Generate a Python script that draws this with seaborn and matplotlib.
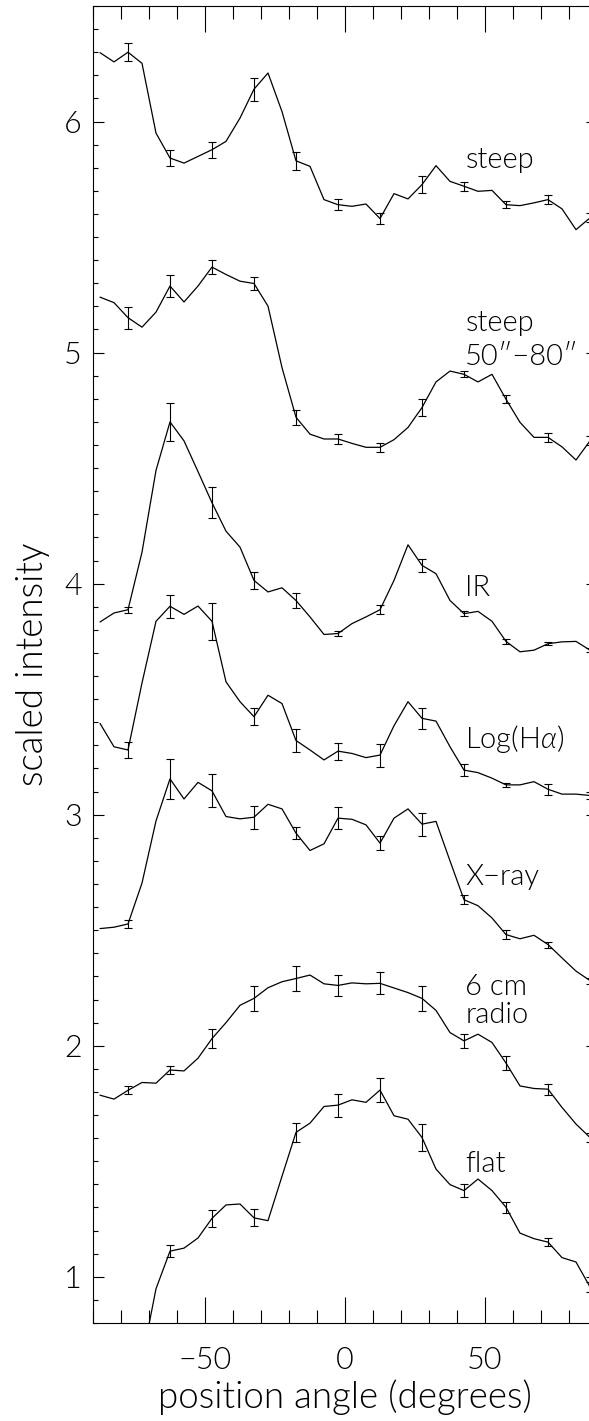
import numpy as np
import pandas as pd
import matplotlib
matplotlib.use('Agg')
import matplotlib.pyplot as plt
import seaborn as sns
from matplotlib.ticker import MultipleLocator

# ---------------- data ----------------
angles = [-87.5, -82.5, -77.5, -72.5, -67.5, -62.5, -57.5, -52.5, -47.5, -42.5,
          -37.5, -32.5, -27.5, -22.5, -17.5, -12.5, -7.5, -2.5, 2.5, 7.5,
          12.5, 17.5, 22.5, 27.5, 32.5, 37.5, 42.5, 47.5, 52.5, 57.5,
          62.5, 67.5, 72.5, 77.5, 82.5, 87.5]
err_angles = [-77.5, -62.5, -47.5, -32.5, -17.5, -2.5, 12.5, 27.5, 42.5, 57.5, 72.5, 87.5]

steep = [6.298, 6.258, 6.300, 6.252, 5.950, 5.842, 5.820, 5.849, 5.878, 5.914,
         6.015, 6.140, 6.210, 6.043, 5.830, 5.806, 5.662, 5.640, 5.633, 5.643,
         5.580, 5.688, 5.665, 5.727, 5.809, 5.741, 5.720, 5.698, 5.702, 5.640,
         5.636, 5.648, 5.662, 5.622, 5.532, 5.583]
steep_err = [0.040, 0.033, 0.035, 0.050, 0.040, 0.024, 0.022, 0.036, 0.020, 0.015, 0.020, 0.020]

steep50 = [5.240, 5.216, 5.151, 5.110, 5.175, 5.288, 5.219, 5.288, 5.370, 5.338,
           5.309, 5.299, 5.201, 4.935, 4.720, 4.647, 4.626, 4.626, 4.607, 4.590,
           4.590, 4.623, 4.676, 4.762, 4.873, 4.920, 4.906, 4.873, 4.906, 4.798,
           4.698, 4.633, 4.633, 4.592, 4.535, 4.618]
steep50_err = [0.047, 0.049, 0.030, 0.030, 0.032, 0.023, 0.020, 0.036, 0.013, 0.018, 0.018, 0.020]

ir = [3.834, 3.873, 3.887, 4.136, 4.490, 4.700, 4.618, 4.485, 4.350, 4.227,
      4.158, 4.014, 3.964, 3.982, 3.927, 3.856, 3.780, 3.784, 3.827, 3.856,
      3.887, 4.014, 4.168, 4.079, 4.043, 3.927, 3.870, 3.880, 3.837, 3.750,
      3.705, 3.712, 3.740, 3.748, 3.750, 3.712]
ir_err = [0.014, 0.083, 0.068, 0.036, 0.032, 0.010, 0.020, 0.027, 0.010, 0.010, 0.007, 0.010]

halpha = [3.395, 3.294, 3.280, 3.570, 3.837, 3.902, 3.867, 3.903, 3.837, 3.575,
          3.489, 3.424, 3.517, 3.481, 3.321, 3.280, 3.237, 3.275, 3.265, 3.247,
          3.258, 3.385, 3.489, 3.417, 3.405, 3.294, 3.193, 3.182, 3.158, 3.129,
          3.129, 3.143, 3.110, 3.089, 3.089, 3.083]
halpha_err = [0.035, 0.050, 0.080, 0.037, 0.050, 0.037, 0.050, 0.046, 0.025, 0.010, 0.024, 0.015]

xray = [2.507, 2.513, 2.527, 2.704, 2.973, 3.155, 3.068, 3.140, 3.103, 2.992,
        2.982, 2.989, 3.045, 3.025, 2.920, 2.845, 2.874, 2.985, 2.980, 2.956,
        2.877, 2.985, 3.025, 2.959, 2.971, 2.800, 2.632, 2.606, 2.553, 2.481,
        2.463, 2.478, 2.438, 2.380, 2.323, 2.282]
xray_err = [0.018, 0.086, 0.071, 0.050, 0.027, 0.048, 0.032, 0.050, 0.020, 0.018, 0.013, 0.013]

radio = [1.786, 1.769, 1.807, 1.841, 1.838, 1.895, 1.891, 1.946, 2.031, 2.100,
         2.175, 2.205, 2.251, 2.277, 2.291, 2.306, 2.268, 2.261, 2.272, 2.268,
         2.270, 2.250, 2.230, 2.205, 2.153, 2.057, 2.021, 2.050, 2.014, 1.925,
         1.826, 1.815, 1.812, 1.733, 1.661, 1.603]
radio_err = [0.018, 0.019, 0.040, 0.054, 0.055, 0.047, 0.047, 0.055, 0.030, 0.029, 0.024, 0.020]

flat = [np.nan, np.nan, np.nan, 0.640, 0.948, 1.111, 1.124, 1.168, 1.253, 1.311,
        1.315, 1.255, 1.243, 1.435, 1.625, 1.665, 1.737, 1.743, 1.766, 1.755,
        1.808, 1.697, 1.682, 1.603, 1.466, 1.399, 1.373, 1.423, 1.373, 1.301,
        1.189, 1.165, 1.150, 1.083, 1.064, 0.956]
flat_err = [np.nan, 0.025, 0.036, 0.037, 0.040, 0.050, 0.052, 0.060, 0.029, 0.024, 0.016, 0.020]

series_names = ['steep', 'steep50', 'IR', 'Halpha', 'Xray', 'radio', 'flat']
series_vals = [steep, steep50, ir, halpha, xray, radio, flat]
series_errs = [steep_err, steep50_err, ir_err, halpha_err, xray_err, radio_err, flat_err]

label_texts = ['steep', 'steep', '50\u2033\u221280\u2033', 'IR', 'Log(H$\\alpha$)',
               'X\u2212ray', '6 cm', 'radio', 'flat']
label_x = [43, 43, 43, 43, 43, 43, 43, 43, 43]
label_y = [5.80, 5.095, 4.948, 3.945, 3.29, 2.697, 2.22, 2.10, 1.455]

x_ticks = [-50, 0, 50]
y_ticks = [1, 2, 3, 4, 5, 6]

# ---------------- style ----------------
sns.set_style('ticks')
plt.rcParams['font.family'] = ['Lato', 'DejaVu Sans']
plt.rcParams['font.weight'] = 300
plt.rcParams['axes.labelweight'] = 300
plt.rcParams['text.color'] = 'black'
plt.rcParams['axes.labelcolor'] = 'black'
plt.rcParams['xtick.color'] = 'black'
plt.rcParams['ytick.color'] = 'black'
plt.rcParams['mathtext.fontset'] = 'custom'
plt.rcParams['mathtext.rm'] = 'Lato:weight=300'
plt.rcParams['mathtext.it'] = 'Lato:style=italic:weight=300'
plt.rcParams['axes.unicode_minus'] = True

W, H = 589, 1421
fig = plt.figure(figsize=(W / 100, H / 100), dpi=100)
left, right, top, bottom = 93, 597, 6, 1323
ax = fig.add_axes([left / W, (H - bottom) / H, (right - left) / W, (bottom - top) / H])

df = pd.DataFrame({
    'angle': np.tile(angles, len(series_names)),
    'intensity': np.concatenate([np.asarray(v, float) for v in series_vals]),
    'series': np.repeat(series_names, len(angles)),
})
df = df.dropna()

sns.lineplot(data=df, x='angle', y='intensity', units='series', estimator=None,
             color='black', linewidth=0.9, sort=False, ax=ax, legend=False)

for vals, errs in zip(series_vals, series_errs):
    idx = [angles.index(a) for a in err_angles]
    yv = np.array([vals[i] for i in idx], float)
    ax.errorbar(err_angles, yv, yerr=np.asarray(errs, float), fmt='none',
                ecolor='black', elinewidth=0.8, capsize=3.0, capthick=0.8)

for t, x, y in zip(label_texts, label_x, label_y):
    ax.text(x, y, t, fontsize=21, ha='left', va='baseline', color='black',
            fontweight=300)

ax.set_xlim(-90, 90)
ax.set_ylim(0.8, 6.5)
ax.set_xticks(x_ticks)
ax.set_yticks(y_ticks)
ax.xaxis.set_minor_locator(MultipleLocator(10))
ax.yaxis.set_minor_locator(MultipleLocator(0.1))

ax.tick_params(axis='x', which='major', direction='in', length=18.7, width=0.8,
               top=True, bottom=True, labelsize=22, pad=16.5)
ax.tick_params(axis='x', which='minor', direction='in', length=9.4, width=0.8,
               top=True, bottom=True)
ax.tick_params(axis='y', which='major', direction='in', length=7.7, width=0.8,
               left=True, right=True, labelsize=22, pad=8)
ax.tick_params(axis='y', which='minor', direction='in', length=3.6, width=0.8,
               left=True, right=True)
for lab in ax.get_xticklabels() + ax.get_yticklabels():
    lab.set_fontweight(300)
for s in ax.spines.values():
    s.set_linewidth(0.8)
    s.set_color('black')
    s.set_visible(True)

ax.set_xlabel('position angle (degrees)', fontsize=26.5, labelpad=3, fontweight=300)
ax.set_ylabel('scaled intensity', fontsize=26.5, labelpad=10, fontweight=300)

fig.savefig('out.png', dpi=100)
